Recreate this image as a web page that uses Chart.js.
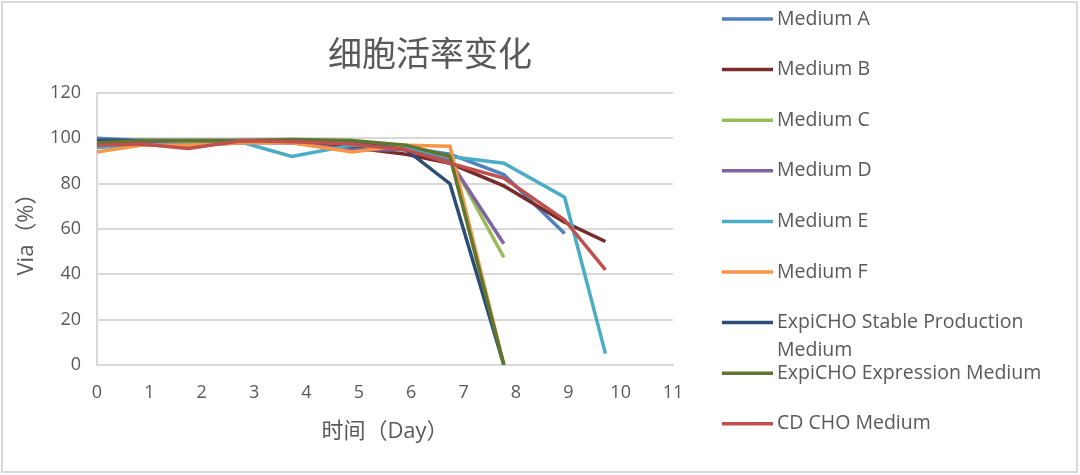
<!DOCTYPE html>
<html>
<head>
<meta charset="utf-8">
<script src="https://cdn.jsdelivr.net/npm/chart.js@4.4.0/dist/chart.umd.min.js"></script>
<style>
  html, body { margin: 0; padding: 0; background: #fff; }
  #wrap { width: 1080px; height: 475px; }
</style>
</head>
<body>
<div id="wrap"><canvas id="viaChart" width="1080" height="475"></canvas></div>
<script>
// sampling time points (days)
const days = [0, 0.85, 1.74, 2.8, 3.72, 4.87, 5.9, 6.74, 7.77, 8.93, 9.71];

const seriesNames = ['Medium A', 'Medium B', 'Medium C', 'Medium D', 'Medium E', 'Medium F',
    'ExpiCHO Stable Production Medium', 'ExpiCHO Expression Medium', 'CD CHO Medium'];

const mediumA = [100, 99, 98, 98.5, 98, 97, 96, 93, 84, 58];
const mediumB = [97, 98.5, 98, 98.5, 98.5, 96, 93, 89, 79, 63, 54.5];
const mediumC = [97, 98, 98, 99, 99, 98, 96, 91, 47.5];
const mediumD = [98, 98, 97, 98, 98, 95, 95, 90, 53.5];
const mediumE = [96, 97, 97, 98, 92, 97, 96, 92, 89, 74, 5];
const mediumF = [94, 97, 97, 98, 98, 94, 97, 96.5, 0];
const expiStable = [99, 99, 99, 99, 99, 98, 95, 80, 0];
const expiExpr = [98, 99, 99, 99, 99.5, 99, 97, 92, 0];
const cdCho = [97, 97.5, 95.5, 99, 98.5, 97.5, 95, 89, 82.5, 64, 42];

const xTicks = [0, 1, 2, 3, 4, 5, 6, 7, 8, 9, 10, 11];
const yTicks = [0, 20, 40, 60, 80, 100, 120];

const colors = ['#4F81BD', '#772C2A', '#9BBB59', '#8064A2', '#4BACC6', '#F79646',
    '#2C4D75', '#5F7530', '#C0504D'];
const allValues = [mediumA, mediumB, mediumC, mediumD, mediumE, mediumF, expiStable, expiExpr, cdCho];

const FONT = "'Open Sans', 'Noto Sans CJK SC', sans-serif";
const TEXT = '#595959';

const datasets = allValues.map((vals, i) => ({
    label: seriesNames[i],
    data: vals.map((v, k) => ({ x: days[k], y: v })),
    borderColor: colors[i],
    backgroundColor: colors[i],
    borderWidth: 3.5,
    pointRadius: 0,
    tension: 0,
    order: allValues.length - i
}));

// title, legend and outer frame drawn by hand
const decorations = {
    id: 'decorations',
    afterDraw(chart) {
        const c = chart.ctx;
        c.save();
        c.strokeStyle = '#D9D9D9';
        c.lineWidth = 2;
        c.strokeRect(2, 2, 1075, 470);

        c.fillStyle = TEXT;
        c.font = '34px ' + FONT;
        c.textAlign = 'center';
        c.textBaseline = 'middle';
        c.fillText('细胞活率变化', 430, 56);

        c.font = '19.5px ' + FONT;
        c.textAlign = 'left';
        seriesNames.forEach((name, i) => {
            const y = 19 + i * 50.6;
            c.strokeStyle = colors[i];
            c.lineWidth = 3.5;
            c.beginPath();
            c.moveTo(722, y);
            c.lineTo(773, y);
            c.stroke();
            c.fillStyle = TEXT;
            if (name === 'ExpiCHO Stable Production Medium') {
                c.fillText('ExpiCHO Stable Production', 777, y);
                c.fillText('Medium', 777, y + 28);
            } else {
                c.fillText(name, 777, y);
            }
        });
        c.restore();
    }
};

const ctx = document.getElementById('viaChart').getContext('2d');
const viaChart = new Chart(ctx, {
    type: 'line',
    data: { datasets: datasets },
    options: {
        responsive: false,
        animation: false,
        layout: { padding: { left: 0, top: 93, right: 407, bottom: 0 } },
        plugins: {
            legend: { display: false },
            title: { display: false },
            tooltip: { enabled: false }
        },
        scales: {
            x: {
                type: 'linear',
                min: 0,
                max: 11,
                afterFit(scale) { scale.height = 110; },
                afterBuildTicks(scale) { scale.ticks = xTicks.map(v => ({ value: v })); },
                grid: { display: false, drawTicks: false },
                border: { display: true, color: '#D9D9D9', width: 2 },
                ticks: { color: TEXT, font: { family: FONT, size: 18 }, padding: 17, maxRotation: 0 },
                title: {
                    display: true,
                    text: '时间（Day）',
                    color: TEXT,
                    font: { family: FONT, size: 22 },
                    padding: { top: 0, bottom: 30 }
                }
            },
            y: {
                min: 0,
                max: 120,
                afterFit(scale) { scale.width = 97; },
                afterBuildTicks(scale) { scale.ticks = yTicks.map(v => ({ value: v })); },
                grid: { color: '#D9D9D9', lineWidth: 2, drawTicks: false },
                border: { display: true, color: '#D9D9D9', width: 2 },
                ticks: { color: TEXT, font: { family: FONT, size: 18 }, padding: 16 },
                title: {
                    display: true,
                    text: 'Via（%）',
                    color: TEXT,
                    font: { family: FONT, size: 22 },
                    padding: { top: 14, bottom: 0 }
                }
            }
        }
    },
    plugins: [decorations]
});
</script>
</body>
</html>
